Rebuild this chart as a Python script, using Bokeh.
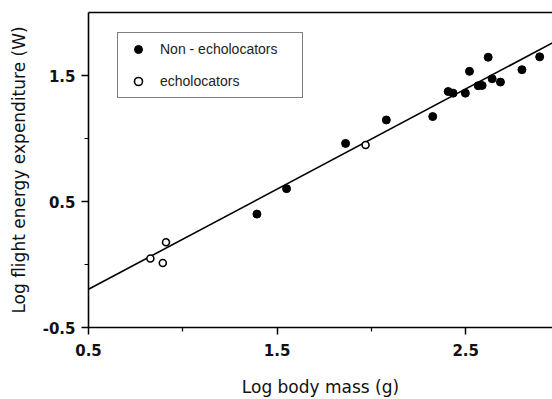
from bokeh.plotting import figure
from bokeh.models import (Range1d, FixedTicker, LinearAxis, Legend, LegendItem,
                          PrintfTickFormatter)
from bokeh.embed import file_html
from bokeh.resources import INLINE

# Data
non_x = [1.393, 1.550, 1.863, 2.079, 2.325, 2.407, 2.433, 2.498, 2.520, 2.566,
         2.587, 2.619, 2.640, 2.684, 2.798, 2.892]
non_y = [0.400, 0.602, 0.961, 1.147, 1.174, 1.373, 1.360, 1.360, 1.533, 1.419,
         1.421, 1.645, 1.474, 1.448, 1.546, 1.648]
echo_x = [0.828, 0.894, 0.911, 1.969]
echo_y = [0.048, 0.012, 0.176, 0.948]
fit_slope = 0.795
fit_intercept = -0.594
fit_x = [0.5, 3.0]
fit_y = [fit_slope * v + fit_intercept for v in fit_x]

x_ticks = [0.5, 1.5, 2.5]
x_minor = [1.0, 2.0]
y_ticks = [-0.5, 0.5, 1.5]
y_minor = [0.0, 1.0]

p = figure(width=552, height=399, output_backend="svg", toolbar_location=None,
           x_range=Range1d(0.5, 2.96), y_range=Range1d(-0.5, 2.0),
           min_border_left=88, min_border_right=0, min_border_top=12,
           min_border_bottom=72)
p.background_fill_color = "white"
p.border_fill_color = "white"
p.outline_line_color = None
p.xgrid.visible = False
p.ygrid.visible = False

p.line(fit_x, fit_y, line_color="black", line_width=1.6)
r1 = p.scatter(non_x, non_y, size=8, marker="circle", fill_color="black",
               line_color="black")
r2 = p.scatter(echo_x, echo_y, size=7, marker="circle", fill_color="white",
               line_color="black", line_width=1.6)

for ax, ticks, minor in ((p.xaxis[0], x_ticks, x_minor), (p.yaxis[0], y_ticks, y_minor)):
    ax.ticker = FixedTicker(ticks=ticks, minor_ticks=minor)
    ax.formatter = PrintfTickFormatter(format="%.1f")
    ax.axis_line_width = 1.6
    ax.axis_line_color = "black"
    ax.major_tick_in = 0
    ax.minor_tick_in = 0
    ax.major_tick_out = 7
    ax.minor_tick_out = 4
    ax.major_tick_line_width = 1.5
    ax.minor_tick_line_width = 1.2
    ax.major_label_text_font = "DejaVu Sans"
    ax.major_label_text_font_style = "bold"
    ax.major_label_text_font_size = "15px"
    ax.major_label_text_color = "#111111"
    ax.axis_label_text_font = "DejaVu Sans"
    ax.axis_label_text_font_style = "normal"
    ax.axis_label_text_font_size = "17px"
    ax.axis_label_text_color = "#111111"

p.xaxis[0].axis_label = "Log body mass (g)"
p.yaxis[0].axis_label = "Log flight energy expenditure (W)"
p.xaxis[0].major_label_standoff = 9
p.xaxis[0].axis_label_standoff = 18
p.yaxis[0].major_label_standoff = 6
p.yaxis[0].axis_label_standoff = 11

top = LinearAxis(ticker=FixedTicker(ticks=[]), major_label_text_font_size="0px",
                 axis_line_width=1.6, axis_line_color="black",
                 major_tick_out=0, minor_tick_out=0, major_tick_in=0, minor_tick_in=0)
p.add_layout(top, "above")

legend = Legend(items=[LegendItem(label="Non - echolocators", renderers=[r1]),
                       LegendItem(label="echolocators", renderers=[r2])],
                location=(29, 229), border_line_color="black", border_line_width=1.5,
                padding=6, spacing=12, label_height=20, glyph_height=20,
                glyph_width=28, label_standoff=8, label_width=136,
                label_text_font="Liberation Sans", label_text_font_size="14px",
                label_text_color="#222222", margin=0, background_fill_alpha=1)
p.add_layout(legend)

open("out.html", "w").write(file_html(p, INLINE))
